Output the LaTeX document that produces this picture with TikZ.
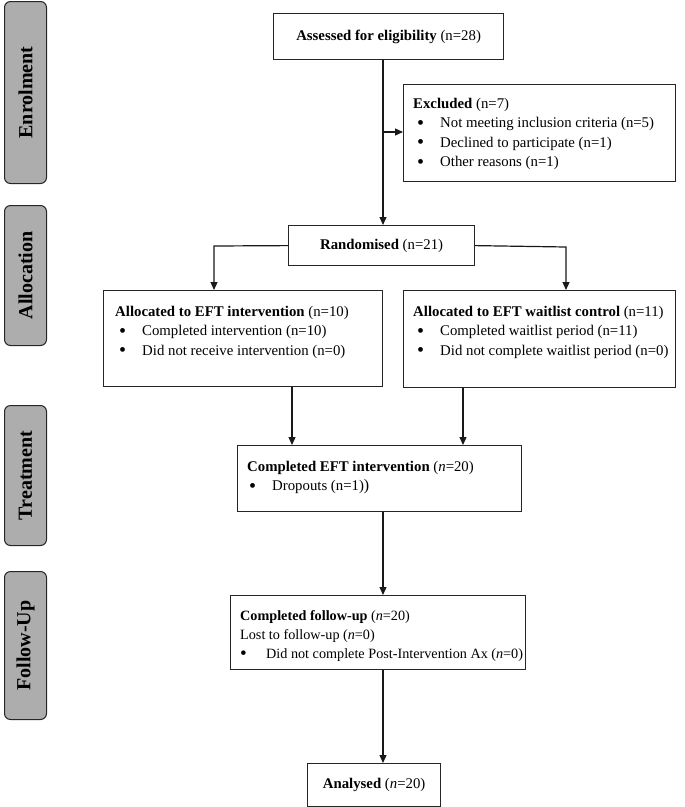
\documentclass[tikz,border=0pt]{standalone}
\usepackage{fontspec}
\setmainfont{Liberation Serif}
\usetikzlibrary{arrows.meta}
\newcommand{\bdot}{\raisebox{-0.09em}{\scalebox{1.35}{\textbullet}}}
\newcommand{\blt}[1]{\hspace*{4pt}\makebox[23pt][l]{\bdot}#1}
\begin{document}
\begin{tikzpicture}[x=1pt,y=-1pt,
  box/.style={draw=black!85, line width=1.2pt, inner sep=0pt, anchor=north west},
  txt/.style={inner sep=0pt, anchor=north west, align=left, font=\fontsize{14.8}{19.5}\selectfont},
  ctxt/.style={inner sep=0pt, font=\fontsize{14.8}{19.5}\selectfont},
  side/.style={draw=black!85, line width=1pt, fill=black!32, rounded corners=6pt, anchor=north west, inner sep=0pt, minimum width=42pt},
  sidetxt/.style={rotate=90, font=\fontsize{20}{20}\selectfont\bfseries, inner sep=0pt},
  arr/.style={draw=black!90, line width=1.2pt, -{Triangle[length=8pt,width=7pt]}},
  ln/.style={draw=black!90, line width=1.2pt}
]
\useasboundingbox (0,0) rectangle (685,807);

% side labels
\node[side, minimum height=182pt] (s1) at (4,1) {};
\node[sidetxt] (s1t) at (s1.center) {Enrolment};
\node[side, minimum height=140pt] (s2) at (4,205) {};
\node[sidetxt] (s2t) at (s2.center) {Allocation};
\node[side, minimum height=140pt] (s3) at (4,405) {};
\node[sidetxt] (s3t) at (s3.center) {Treatment};
\node[side, minimum height=148pt] (s4) at (4,571) {};
\node[sidetxt] (s4t) at (s4.center) {Follow-Up};

% boxes
\node[box, minimum width=230pt, minimum height=46pt] (assess) at (273,13) {};
\node[ctxt] (assessT) at (assess.center) {\textbf{Assessed for eligibility} (n=28)};

\node[box, minimum width=272pt, minimum height=97pt] (excl) at (403,84) {};
\node[txt] (exclT) at ([shift={(10,14)}]excl.north west) {\textbf{Excluded} (n=7)\\
\blt{Not meeting inclusion criteria (n=5)}\\
\blt{Declined to participate (n=1)}\\
\blt{Other reasons (n=1)}};

\node[box, minimum width=186pt, minimum height=40pt] (rand) at (288,225) {};
\node[ctxt] (randT) at (rand.center) {\textbf{Randomised} (n=21)};

\node[box, minimum width=279pt, minimum height=96pt] (lall) at (103,290) {};
\node[txt] (lallT) at ([shift={(12,16)}]lall.north west) {\textbf{Allocated to EFT intervention} (n=10)\\
\blt{Completed intervention (n=10)}\\
\blt{Did not receive intervention (n=0)}};

\node[box, minimum width=272pt, minimum height=97pt] (rall) at (403,290) {};
\node[txt] (rallT) at ([shift={(10,16)}]rall.north west) {\textbf{Allocated to EFT waitlist control} (n=11)\\
\blt{Completed waitlist period (n=11)}\\
\blt{Did not complete waitlist period (n=0)}};

\node[box, minimum width=284pt, minimum height=66pt] (comp) at (237,445) {};
\node[txt] (compT) at ([shift={(10,16)}]comp.north west) {\textbf{Completed EFT intervention} (\textit{n}=20)\\
\hspace*{2pt}\makebox[23pt][l]{\bdot}Dropouts (n=1){\fontsize{16}{16}\selectfont)}};

\node[box, minimum width=295pt, minimum height=74pt] (foll) at (230,595) {};
\node[txt, font=\fontsize{14.2}{19}\selectfont] (follT) at ([shift={(10,15)}]foll.north west) {\textbf{Completed follow-up} (\textit{n}=20)\\
Lost to follow-up (\textit{n}=0)\\
\makebox[26pt][l]{\bdot}Did not complete Post-Intervention Ax (\textit{n}=0)};

\node[box, minimum width=133pt, minimum height=43pt] (anal) at (307,763) {};
\node[ctxt] (analT) at (anal.center) {\textbf{Analysed} (\textit{n}=20)};

% connectors
\coordinate (c1) at (383,132);
\draw[arr] (assess.south -| c1) -- (rand.north -| c1);
\draw[arr] (c1) -- (excl.west |- c1);

\coordinate (lc) at (214,246);
\coordinate (rc) at (566,247);
\draw[arr] (rand.west) -- (lc) -- (lall.north -| lc);
\draw[arr] (rand.east) -- (rc) -- (rall.north -| rc);

\coordinate (d1) at (292,420);
\coordinate (d2) at (463,420);
\draw[arr] (lall.south -| d1) -- (comp.north -| d1);
\draw[arr] (rall.south -| d2) -- (comp.north -| d2);

\coordinate (d3) at (383,600);
\draw[arr] (comp.south -| d3) -- (foll.north -| d3);
\draw[arr] (foll.south -| d3) -- (anal.north -| d3);
\end{tikzpicture}
\end{document}
